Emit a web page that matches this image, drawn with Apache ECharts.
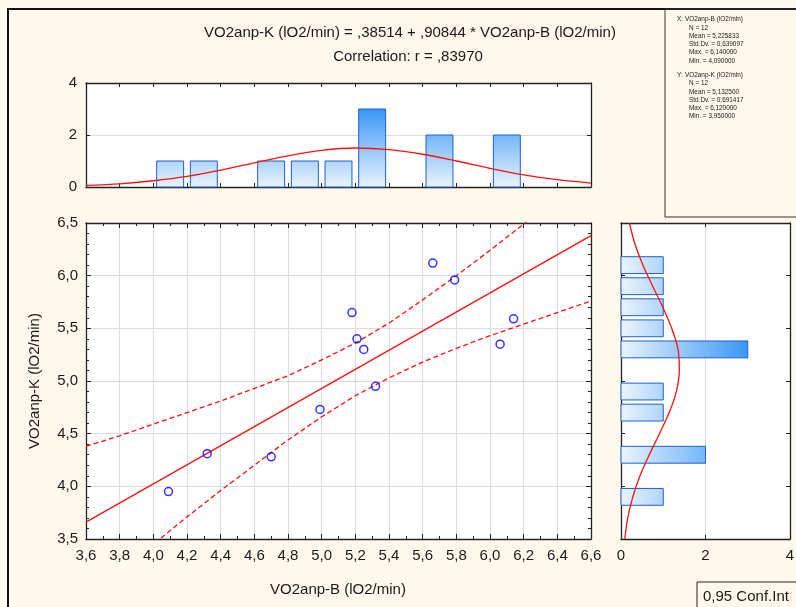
<!DOCTYPE html>
<html>
<head>
<meta charset="utf-8">
<script src="https://cdn.jsdelivr.net/npm/echarts@6/dist/echarts.min.js"></script>
<style>
html, body { margin: 0; padding: 0; background: #fff9ed; }
#main { width: 796px; height: 607px; }
</style>
</head>
<body>
<div id="main"></div>
<script>
// scatter points
const ptX = [4.09, 4.32, 4.70, 4.99, 5.18, 5.21, 5.25, 5.32, 5.66, 5.79, 6.06, 6.14];
const ptY = [3.95, 4.31, 4.28, 4.73, 5.65, 5.40, 5.30, 4.95, 6.12, 5.96, 5.35, 5.59];

// regression line end points
const regX = [3.6, 6.6];
const regY = [3.66, 6.38];

// 0,95 conf. band read along x
const bandX = [3.6, 3.8, 4.0, 4.2, 4.4, 4.6, 4.8, 5.0, 5.2, 5.4, 5.6, 5.8, 6.0, 6.2, 6.4, 6.6];
const bandUpper = [4.38, 4.48, 4.59, 4.70, 4.81, 4.93, 5.05, 5.20, 5.36, 5.55, 5.77, 6.00, 6.24, 6.49, 6.75, 7.00];
const bandLower = [2.94, 3.20, 3.45, 3.71, 3.96, 4.20, 4.44, 4.66, 4.86, 5.03, 5.18, 5.31, 5.43, 5.54, 5.65, 5.76];

// histogram of X (top)
const binWidth = 0.2;
const xBinStart = [4.0, 4.2, 4.6, 4.8, 5.0, 5.2, 5.6, 6.0];
const xBinCount = [1, 1, 1, 1, 1, 3, 2, 2];
const curveTopN = [0.06, 0.12, 0.24, 0.41, 0.65, 0.93, 1.20, 1.41, 1.50, 1.44, 1.26, 1.00, 0.72, 0.47, 0.28, 0.15];

// histogram of Y (right)
const yBinStart = [3.8, 4.2, 4.6, 4.8, 5.2, 5.4, 5.6, 5.8, 6.0];
const yBinCount = [1, 2, 1, 1, 3, 1, 1, 1, 1];
const curveRightY = [3.5, 3.7, 3.9, 4.1, 4.3, 4.5, 4.7, 4.9, 5.1, 5.3, 5.5, 5.7, 5.9, 6.1, 6.3, 6.5];
const curveRightN = [0.09, 0.16, 0.28, 0.45, 0.67, 0.91, 1.14, 1.31, 1.38, 1.35, 1.20, 0.99, 0.75, 0.52, 0.33, 0.20];

// texts
const titleLine1 = "VO2anp-K (lO2/min) = ,38514 + ,90844 * VO2anp-B (lO2/min)";
const titleLine2 = "Correlation: r = ,83970";
const xName = "VO2anp-B (lO2/min)";
const yName = "VO2anp-K (lO2/min)";
const statsX = ["N = 12", "Mean = 5,225833", "Std.Dv. = 0,639097", "Max. = 6,140000", "Min. = 4,090000"];
const statsY = ["N = 12", "Mean = 5,132500", "Std.Dv. = 0,691417", "Max. = 6,120000", "Min. = 3,950000"];

const FONT = "'Liberation Sans', Arial, sans-serif";
const INK = "#1a1a1a";
const LINE = "#222";
const GRIDC = "#dcdcdc";

function comma(v) {
  return v.toFixed(1).replace(".", ",");
}

function frameAxis(o) {
  return Object.assign({
    type: "value",
    axisLine: { show: true, onZero: false, lineStyle: { color: LINE, width: 1.3 } },
    axisTick: { show: true, inside: true, length: 4, lineStyle: { color: LINE } },
    minorTick: { show: false },
    axisLabel: { show: false },
    splitLine: { show: false }
  }, o);
}

const labelStyle = { show: true, color: INK, fontSize: 15, fontFamily: FONT, showMinLabel: true, showMaxLabel: true };

var myChart = echarts.init(document.getElementById("main"));

function topBar(params, api) {
  var lo = api.value(0), hi = api.value(1), n = api.value(2);
  var pad = (hi - lo) * 0.1;
  var a = api.coord([lo + pad, n]);
  var b = api.coord([hi - pad, 0]);
  var g0 = api.coord([lo, 0]);
  var g3 = api.coord([lo, 3]);
  return {
    type: "rect",
    shape: { x: a[0], y: a[1], width: b[0] - a[0], height: b[1] - a[1] },
    style: {
      fill: new echarts.graphic.LinearGradient(0, g0[1], 0, g3[1], [
        { offset: 0, color: "#eaf4fe" },
        { offset: 1, color: "#3a97f5" }
      ], true),
      stroke: "#1e5fd2",
      lineWidth: 1
    }
  };
}

function rightBar(params, api) {
  var lo = api.value(0), hi = api.value(1), n = api.value(2);
  var pad = (hi - lo) * 0.1;
  var a = api.coord([0, hi - pad]);
  var b = api.coord([n, lo + pad]);
  var g0 = api.coord([0, lo]);
  var g3 = api.coord([3, lo]);
  return {
    type: "rect",
    shape: { x: a[0], y: a[1], width: b[0] - a[0], height: b[1] - a[1] },
    style: {
      fill: new echarts.graphic.LinearGradient(g0[0], 0, g3[0], 0, [
        { offset: 0, color: "#eaf4fe" },
        { offset: 1, color: "#3a97f5" }
      ], true),
      stroke: "#1e5fd2",
      lineWidth: 1
    }
  };
}

function smallText(str, x, y) {
  return { type: "text", silent: true, x: x, y: y, scaleX: 0.8,
    style: { text: str, fill: INK, font: "8px " + FONT, textVerticalAlign: "middle" } };
}

var graphics = [
  { type: "rect", silent: true, z: 0, shape: { x: 8, y: 9, width: 900, height: 700 },
    style: { fill: "none", stroke: "#111", lineWidth: 2 } },
  { type: "rect", silent: true, z: 0, shape: { x: 665, y: 9, width: 200, height: 208 },
    style: { fill: "none", stroke: "#333", lineWidth: 1 } },
  { type: "rect", silent: true, z: 0, shape: { x: 697, y: 582, width: 150, height: 50 },
    style: { fill: "none", stroke: "#222", lineWidth: 1 } },
  { type: "text", silent: true, x: 410, y: 33,
    style: { text: titleLine1, fill: INK, font: "15px " + FONT, textAlign: "center", textVerticalAlign: "middle" } },
  { type: "text", silent: true, x: 408, y: 57,
    style: { text: titleLine2, fill: INK, font: "15px " + FONT, textAlign: "center", textVerticalAlign: "middle" } },
  { type: "text", silent: true, x: 338, y: 590,
    style: { text: xName, fill: INK, font: "15px " + FONT, textAlign: "center", textVerticalAlign: "middle" } },
  { type: "text", silent: true, x: 35, y: 381, rotation: Math.PI / 2,
    style: { text: yName, fill: INK, font: "15px " + FONT, textAlign: "center", textVerticalAlign: "middle" } },
  { type: "text", silent: true, x: 703, y: 597,
    style: { text: "0,95 Conf.Int", fill: INK, font: "15px " + FONT, textAlign: "left", textVerticalAlign: "middle" } },
  smallText("X:", 677, 19),
  smallText(xName, 685, 19),
  smallText("Y:", 677, 75),
  smallText(yName, 685, 75)
];
statsX.forEach(function (s, i) {
  graphics.push(smallText(s, 689, 27.5 + i * 8.2));
});
statsY.forEach(function (s, i) {
  graphics.push(smallText(s, 689, 83.2 + i * 8.2));
});

var option = {
  backgroundColor: "#fff9ed",
  animation: false,
  grid: [
    { left: 86, top: 223, width: 505, height: 316, show: true, backgroundColor: "#fff", borderWidth: 0, containLabel: false, outerBoundsMode: "none" },
    { left: 86, top: 83, width: 505, height: 104, show: true, backgroundColor: "#fff", borderWidth: 0, containLabel: false, outerBoundsMode: "none" },
    { left: 621, top: 223, width: 169, height: 316, show: true, backgroundColor: "#fff", borderWidth: 0, containLabel: false, outerBoundsMode: "none" }
  ],
  xAxis: [
    frameAxis({ gridIndex: 0, position: "bottom", min: 3.6, max: 6.6, interval: 0.2,
      axisTick: { show: true, inside: true, length: 5, lineStyle: { color: LINE } },
      minorTick: { show: true, splitNumber: 2, length: 3, lineStyle: { color: LINE } },
      axisLabel: Object.assign({}, labelStyle, { margin: 9, formatter: comma }),
      splitLine: { show: true, lineStyle: { color: GRIDC, width: 1 } } }),
    frameAxis({ gridIndex: 0, position: "top", min: 3.6, max: 6.6, interval: 0.2,
      axisTick: { show: true, inside: true, length: 5, lineStyle: { color: LINE } },
      minorTick: { show: true, splitNumber: 2, length: 3, lineStyle: { color: LINE } } }),
    frameAxis({ gridIndex: 1, position: "bottom", min: 3.6, max: 6.6, interval: 0.2 }),
    frameAxis({ gridIndex: 1, position: "top", min: 3.6, max: 6.6, interval: 0.2 }),
    frameAxis({ gridIndex: 2, position: "bottom", min: 0, max: 4, interval: 2,
      axisLabel: Object.assign({}, labelStyle, { margin: 9 }),
      splitLine: { show: true, lineStyle: { color: GRIDC, width: 1 } } }),
    frameAxis({ gridIndex: 2, position: "top", min: 0, max: 4, interval: 2 })
  ],
  yAxis: [
    frameAxis({ gridIndex: 0, position: "left", min: 3.5, max: 6.5, interval: 0.5,
      axisTick: { show: true, inside: true, length: 5, lineStyle: { color: LINE } },
      minorTick: { show: true, splitNumber: 5, length: 3, lineStyle: { color: LINE } },
      axisLabel: Object.assign({}, labelStyle, { margin: 8, formatter: comma }),
      splitLine: { show: true, lineStyle: { color: GRIDC, width: 1 } } }),
    frameAxis({ gridIndex: 0, position: "right", min: 3.5, max: 6.5, interval: 0.5,
      axisTick: { show: true, inside: true, length: 5, lineStyle: { color: LINE } },
      minorTick: { show: true, splitNumber: 5, length: 3, lineStyle: { color: LINE } } }),
    frameAxis({ gridIndex: 1, position: "left", min: 0, max: 4, interval: 2,
      axisLabel: Object.assign({}, labelStyle, { margin: 9 }),
      splitLine: { show: true, lineStyle: { color: GRIDC, width: 1 } } }),
    frameAxis({ gridIndex: 1, position: "right", min: 0, max: 4, interval: 2 }),
    frameAxis({ gridIndex: 2, position: "left", min: 3.5, max: 6.5, interval: 0.5 }),
    frameAxis({ gridIndex: 2, position: "right", min: 3.5, max: 6.5, interval: 0.5 })
  ],
  graphic: graphics,
  series: [
    {
      type: "custom", xAxisIndex: 2, yAxisIndex: 2, renderItem: topBar,
      encode: { x: [0, 1], y: 2 },
      data: xBinStart.map(function (s, i) { return [s, s + binWidth, xBinCount[i]]; })
    },
    {
      type: "line", xAxisIndex: 2, yAxisIndex: 2, showSymbol: false, smooth: 0.3,
      lineStyle: { color: "#ff1010", width: 1.3 },
      data: bandX.map(function (x, i) { return [x, curveTopN[i]]; }), z: 5
    },
    {
      type: "custom", xAxisIndex: 4, yAxisIndex: 4, renderItem: rightBar,
      encode: { x: 2, y: [0, 1] },
      data: yBinStart.map(function (s, i) { return [s, s + binWidth, yBinCount[i]]; })
    },
    {
      type: "line", xAxisIndex: 4, yAxisIndex: 4, showSymbol: false, smooth: 0.3,
      lineStyle: { color: "#ff1010", width: 1.3 },
      data: curveRightY.map(function (y, i) { return [curveRightN[i], y]; }), z: 5
    },
    {
      type: "line", xAxisIndex: 0, yAxisIndex: 0, showSymbol: false,
      lineStyle: { color: "#ff1010", width: 1.3 },
      data: regX.map(function (x, i) { return [x, regY[i]]; })
    },
    {
      type: "line", xAxisIndex: 0, yAxisIndex: 0, showSymbol: false,
      lineStyle: { color: "#ff1010", width: 1.3, type: [5, 3] },
      data: bandX.map(function (x, i) { return [x, bandUpper[i]]; })
    },
    {
      type: "line", xAxisIndex: 0, yAxisIndex: 0, showSymbol: false,
      lineStyle: { color: "#ff1010", width: 1.3, type: [5, 3] },
      data: bandX.map(function (x, i) { return [x, bandLower[i]]; })
    },
    {
      type: "scatter", xAxisIndex: 0, yAxisIndex: 0, symbol: "circle", symbolSize: 8,
      itemStyle: { color: "rgba(255,255,255,0)", borderColor: "#0000ff", borderWidth: 1.5 },
      data: ptX.map(function (x, i) { return [x, ptY[i]]; }), z: 6
    }
  ]
};

myChart.setOption(option);
</script>
</body>
</html>
